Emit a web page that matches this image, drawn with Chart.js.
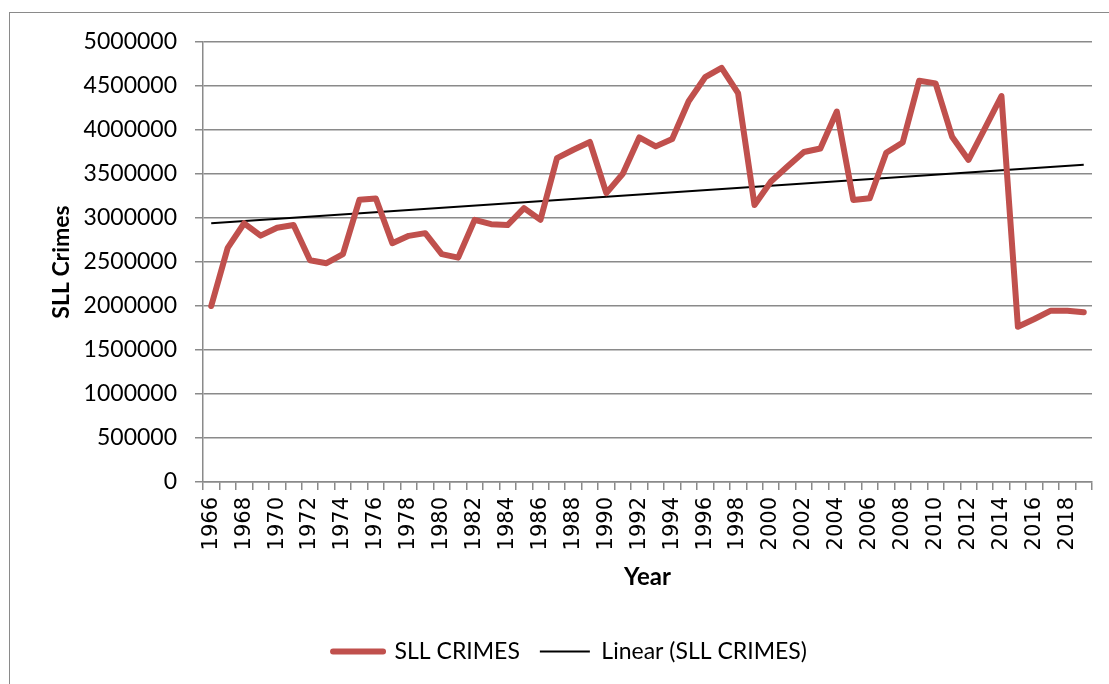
<!DOCTYPE html>
<html>
<head>
<meta charset="utf-8">
<script src="https://cdn.jsdelivr.net/npm/chart.js@4/dist/chart.umd.min.js"></script>
<style>
  html, body { margin: 0; padding: 0; background: #fff; overflow: hidden; }
  #frame { position: absolute; left: 9px; top: 12px; width: 1120px; height: 700px; border: 1.5px solid #8a8a8a; }
  #priceChart { position: absolute; left: 0; top: 0; }
</style>
</head>
<body>
<div id="frame"></div>
<canvas id="priceChart" width="1109" height="684"></canvas>
<script>
const years = [
  '1966', '1967', '1968', '1969', '1970', '1971', '1972', '1973', '1974', '1975',
  '1976', '1977', '1978', '1979', '1980', '1981', '1982', '1983', '1984', '1985',
  '1986', '1987', '1988', '1989', '1990', '1991', '1992', '1993', '1994', '1995',
  '1996', '1997', '1998', '1999', '2000', '2001', '2002', '2003', '2004', '2005',
  '2006', '2007', '2008', '2009', '2010', '2011', '2012', '2013', '2014', '2015',
  '2016', '2017', '2018', '2019',
];

const sllCrimes = [
  2000000, 2660000, 2940000, 2800000, 2890000, 2920000, 2520000, 2486000, 2590000, 3207000,
  3222000, 2714000, 2797000, 2828000, 2590000, 2550000, 2979000, 2930000, 2920000, 3112000,
  2979000, 3680000, 3776000, 3864000, 3283000, 3503000, 3916000, 3814000, 3898000, 4326000,
  4600000, 4706000, 4420000, 3148000, 3415000, 3585000, 3750000, 3790000, 4210000, 3205000,
  3224000, 3742000, 3858000, 4560000, 4530000, 3924000, 3660000, 4020000, 4386000, 1765000,
  1852000, 1947000, 1945000, 1928000,
];

// trend line read at its two ends (1966 and 2019)
const trendEnds = [2940000, 3605000];

const yTicks = [0, 500000, 1000000, 1500000, 2000000, 2500000, 3000000, 3500000, 4000000, 4500000, 5000000];

const gray = '#8a8a8a';
const trend = years.map((y, i) => (i === 0 ? trendEnds[0] : i === years.length - 1 ? trendEnds[1] : null));

const ctx = document.getElementById('priceChart').getContext('2d');
const chart = new Chart(ctx, {
  type: 'line',
  data: {
    labels: years,
    datasets: [
      { label: 'SLL CRIMES', data: sllCrimes, borderColor: '#c0504d', backgroundColor: '#c0504d', borderWidth: 6, pointRadius: 0, tension: 0, fill: false, borderCapStyle: 'round', borderJoinStyle: 'round' },
      { label: 'Linear (SLL CRIMES)', data: trend, borderColor: '#000', backgroundColor: '#000', borderWidth: 2, pointRadius: 0, spanGaps: true, fill: false },
    ],
  },
  options: {
    responsive: false,
    animation: false,
    layout: { padding: { top: 42, right: 17, bottom: 11, left: 48 } },
    plugins: {
      tooltip: { enabled: false },
      legend: {
        position: 'bottom',
        labels: {
          boxWidth: 50,
          boxHeight: 0,
          padding: 20,
          color: '#000',
          font: { family: 'Lato', size: 23 },
        },
      },
    },
    scales: {
      x: {
        offset: true,
        afterFit: (s) => { s.height = 138; s.paddingRight = 0; s.paddingLeft = 0; },
        border: { color: gray, width: 1.5 },
        grid: { offset: true, drawOnChartArea: false, drawTicks: true, tickLength: 8, color: gray, lineWidth: 1.5 },
        ticks: {
          autoSkip: false,
          minRotation: 90,
          maxRotation: 90,
          padding: 7,
          color: '#000',
          font: { family: 'DejaVu Sans', size: 21 },
          callback: (v, i) => (i % 2 === 0 ? years[i] : ''),
        },
        title: { display: true, text: 'Year', color: '#000', font: { family: 'Lato', size: 24, weight: 'bold' }, padding: { top: 0, bottom: 28 } },
      },
      y: {
        min: yTicks[0],
        max: yTicks[yTicks.length - 1],
        afterFit: (s) => { s.width = 155; },
        afterBuildTicks: (s) => { s.ticks = yTicks.map((v) => ({ value: v })); },
        border: { color: gray, width: 1.5 },
        grid: { color: gray, lineWidth: 1.5, tickLength: 8 },
        ticks: {
          padding: 18,
          color: '#000',
          font: { family: 'Lato', size: 23 },
          callback: (v) => String(v),
        },
        title: { display: true, text: 'SLL Crimes', color: '#000', font: { family: 'Lato', size: 23, weight: 'bold' }, padding: { top: 0, bottom: 0 } },
      },
    },
  },
});
</script>
</body>
</html>
